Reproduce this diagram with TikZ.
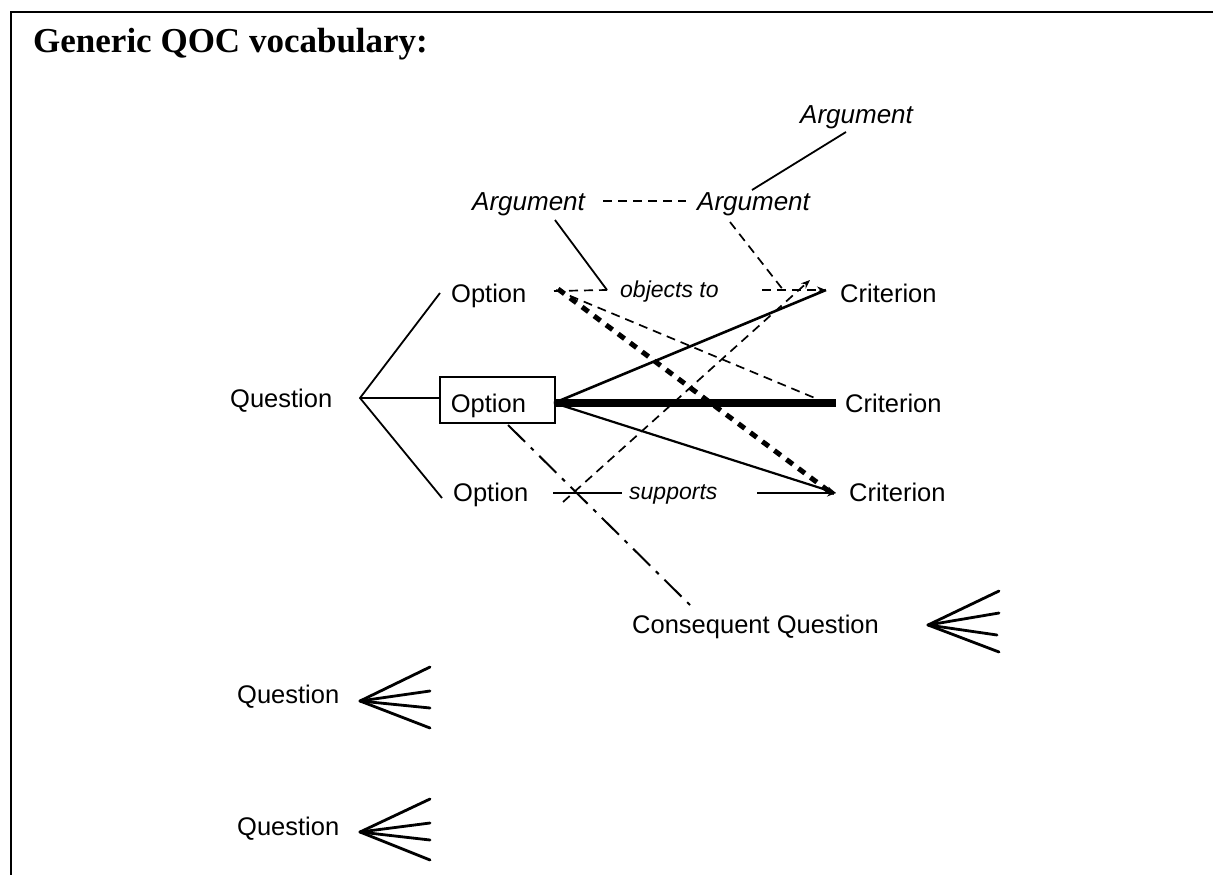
\documentclass[tikz,border=0pt]{standalone}
\usepackage{fontspec}
\setmainfont{Liberation Serif}
\setsansfont{Liberation Sans}
\usetikzlibrary{arrows.meta}
\begin{document}
\begin{tikzpicture}[x=1pt,y=-1pt,
  lbl/.style={font=\sffamily\fontsize{25.5}{30}\selectfont, inner sep=0pt, anchor=base west},
  albl/.style={font=\sffamily\itshape\fontsize{26}{30}\selectfont, inner sep=0pt, anchor=base west},
  ilbl/.style={font=\sffamily\itshape\fontsize{23}{28}\selectfont, inner sep=0pt, anchor=base west},
  thinln/.style={line width=1.8pt},
  dsh/.style={line width=1.7pt, dash pattern=on 9pt off 6pt},
  thickdsh/.style={line width=5pt, dash pattern=on 8pt off 7pt},
  dashdot/.style={line width=2pt, dash pattern=on 24pt off 8pt on 4pt off 8pt},
  tip/.style={-{Stealth[length=9pt,width=7pt]}},
  fan/.style={line width=2.8pt, line cap=round},
]
\useasboundingbox (0,0) rectangle (1213,875);
% frame
\draw[line width=2.2pt] (11,875) -- (11,12) -- (1213,12);
% title
\node[anchor=base west, inner sep=0pt, font=\bfseries\fontsize{35}{40}\selectfont] (title) at (33,53) {Generic QOC vocabulary:};

% nodes
\node[albl] (argtop) at (800,123) {Argument};
\node[albl] (argl) at (472,210) {Argument};
\node[albl] (argm) at (697,210) {Argument};
\node[lbl] (q) at (230,407) {Question};
\node[lbl] (o1) at (451,302) {Option};
\node[lbl, draw, line width=1.6pt, inner xsep=11pt, text width=93pt, align=left,
      text height=31pt, text depth=7pt, inner ysep=4pt] (o2) at (439,412) {Option};
\node[lbl] (o3) at (453,501) {Option};
\node[lbl] (c1) at (840,302) {Criterion};
\node[lbl] (c2) at (845,412) {Criterion};
\node[lbl] (c3) at (849,501) {Criterion};
\node[ilbl] (obj) at (620,297) {objects to};
\node[ilbl] (sup) at (629,499) {supports};
\node[lbl] (cq) at (632,633) {Consequent Question};
\node[lbl] (q2) at (237,703) {Question};
\node[lbl] (q3) at (237,835) {Question};

% named connector end points
\coordinate (qhub) at (360,398);
\coordinate (o1in) at (440,293);
\coordinate (o2in) at (439,398);
\coordinate (o3in) at (442,498);
\coordinate (o1out) at (554,291);
\coordinate (o2out) at (554,403);
\coordinate (o3out) at (553,493);
\coordinate (c1in) at (826,290);
\coordinate (c2in) at (836,403);
\coordinate (c3in) at (836,493);
\coordinate (argtopdn) at (846,132);
\coordinate (argmup) at (752,190);
\coordinate (arglr) at (603,201);
\coordinate (argml) at (686,201);
\coordinate (argldn) at (555,220);
\coordinate (argmdn) at (730,222);
\coordinate (objl) at (607,290);
\coordinate (objr) at (762,290);
\coordinate (objmid) at (784,291);
\coordinate (supl) at (622,493);
\coordinate (supr) at (757,493);
\coordinate (o2dn) at (508,425);
\coordinate (cqup) at (690,605);

% question to options
\draw[thinln] (o1in) -- (qhub) -- (o3in);
\draw[thinln] (qhub) -- (o2in);

% arguments
\draw[thinln] (argtopdn) -- (argmup);
\draw[dsh] (arglr) -- (argml);
\draw[thinln] (argldn) -- (objl);
\draw[dsh] (argmdn) -- (objmid);

% objects to
\draw[dsh] (o1out) -- (objl);
\draw[dsh, tip] (objr) -- (c1in);

% option box to criteria
\draw[line width=2.6pt] (o2out) -- (c1in);
\draw[line width=8pt] (o2out) -- (c2in);
\draw[line width=2.2pt, tip] (o2out) -- (c3in);

% top option to criteria
\draw[dsh, tip] ([xshift=2pt,yshift=1pt]o1out) -- ([xshift=-2pt,yshift=-3pt]c2in);
\draw[thickdsh, tip] ([xshift=4pt,yshift=2pt]o1out) -- ([xshift=-2pt,yshift=-2pt]c3in);

% bottom option
\draw[dsh, tip] ([xshift=10pt,yshift=-9pt]o3out) -- ([xshift=-16pt,yshift=10pt]c1in);
\draw[thinln] (o3out) -- (supl);
\draw[thinln, tip] (supr) -- (c3in);

% consequent question
\draw[dashdot] (o2dn) -- (cqup);

% fans
\coordinate (f1) at (928,625);
\draw[fan] (f1) -- (999,591);
\draw[fan] (f1) -- (999,613);
\draw[fan] (f1) -- (997,635);
\draw[fan] (f1) -- (999,652);
\coordinate (f2) at (360,701);
\draw[fan] (f2) -- (430,667);
\draw[fan] (f2) -- (430,691);
\draw[fan] (f2) -- (430,708);
\draw[fan] (f2) -- (430,728);
\coordinate (f3) at (360,832);
\draw[fan] (f3) -- (430,799);
\draw[fan] (f3) -- (430,823);
\draw[fan] (f3) -- (430,840);
\draw[fan] (f3) -- (430,860);
\end{tikzpicture}
\end{document}
